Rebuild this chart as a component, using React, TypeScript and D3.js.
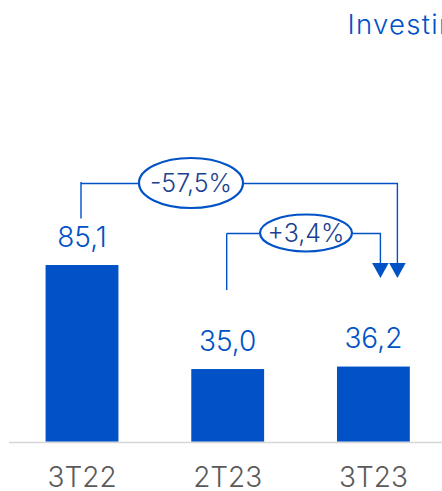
import React from 'react'
import * as d3 from 'd3'

// periods and investment values (R$ mi)
const categories = ['3T22', '2T23', '3T23']
const values = [85.1, 35.0, 36.2]
const valueLabels = ['85,1', '35,0', '36,2']
const title = 'Investir'

// variation brackets: from -> to
const variations = [
  { label: '-57,5%', from: 0, to: 2, level: 183.5, leftEnd: 218.5, arrowDx: 24, ecx: 191, rx: 52, ry: 25, tick: 1.5 },
  { label: '+3,4%', from: 1, to: 2, level: 233.5, leftEnd: 290, arrowDx: 7, ecx: 306, rx: 46, ry: 18.5, tick: 0 },
]

const W = 442
const H = 491
const BLUE = '#0052c6'
const GRAY = '#5a5a5a'
const FONT = 'Inter, "Noto Sans", sans-serif'

const App = () => {
  const x = d3.scaleBand<string>()
    .domain(categories)
    .range([9.15, 446.25])
    .paddingInner(0.5)
    .paddingOuter(0.25)

  const y = d3.scaleLinear().domain([0, 100]).range([441.7, 234.1])

  const cx = (i: number) => (x(categories[i]) as number) + x.bandwidth() / 2
  const arrowTip = 278

  return (
    <svg width={W} height={H} style={{ position: 'absolute', left: 0, top: 0 }}
      fontFamily={FONT}>
      <rect width={W} height={H} fill="#fff" />

      <text x={347.5} y={34} fontSize={27.5} fontWeight={300} letterSpacing={1.3}
        fill={BLUE}>{title}</text>

      {/* bars */}
      {categories.map((c, i) => (
        <rect key={c} x={x(c)} y={y(values[i])} width={x.bandwidth()}
          height={y(0) - y(values[i])} fill={BLUE} />
      ))}

      {/* baseline */}
      <line x1={9} x2={W} y1={442.6} y2={442.6} stroke="#d6d6d6" strokeWidth={1.5} />

      {/* value labels */}
      {categories.map((c, i) => (
        <text key={c} x={cx(i)} y={y(values[i]) - 18.5} textAnchor="middle"
          fontSize={28} fontWeight={300} fill={BLUE}>{valueLabels[i]}</text>
      ))}

      {/* category labels */}
      {categories.map((c, i) => (
        <text key={c} x={cx(i)} y={487} textAnchor="middle" fontSize={28}
          fontWeight={300} fill={GRAY}>{c}</text>
      ))}

      {/* variation brackets */}
      {variations.map((v) => {
        const x0 = cx(v.from) - 1
        const x1 = cx(v.to) + v.arrowDx
        return (
          <g key={v.label}>
            <path
              d={`M${x0},${v.leftEnd}V${v.level - v.tick}M${x0},${v.level}H${x1}V${arrowTip - 14}`}
              fill="none" stroke={BLUE} strokeWidth={1.4} />
            <path d={`M${x1 - 8.3},${arrowTip - 15}L${x1 + 8.3},${arrowTip - 15}L${x1},${arrowTip}Z`}
              fill={BLUE} />
            <ellipse cx={v.ecx} cy={v.level - 0.5} rx={v.rx} ry={v.ry} fill="#fff"
              stroke={BLUE} strokeWidth={2.2} />
            <text x={v.ecx} y={v.level + 8.5} textAnchor="middle" fontSize={25}
              fontWeight={300} fill="#1c3f8f">{v.label}</text>
          </g>
        )
      })}
    </svg>
  )
}

export default App
